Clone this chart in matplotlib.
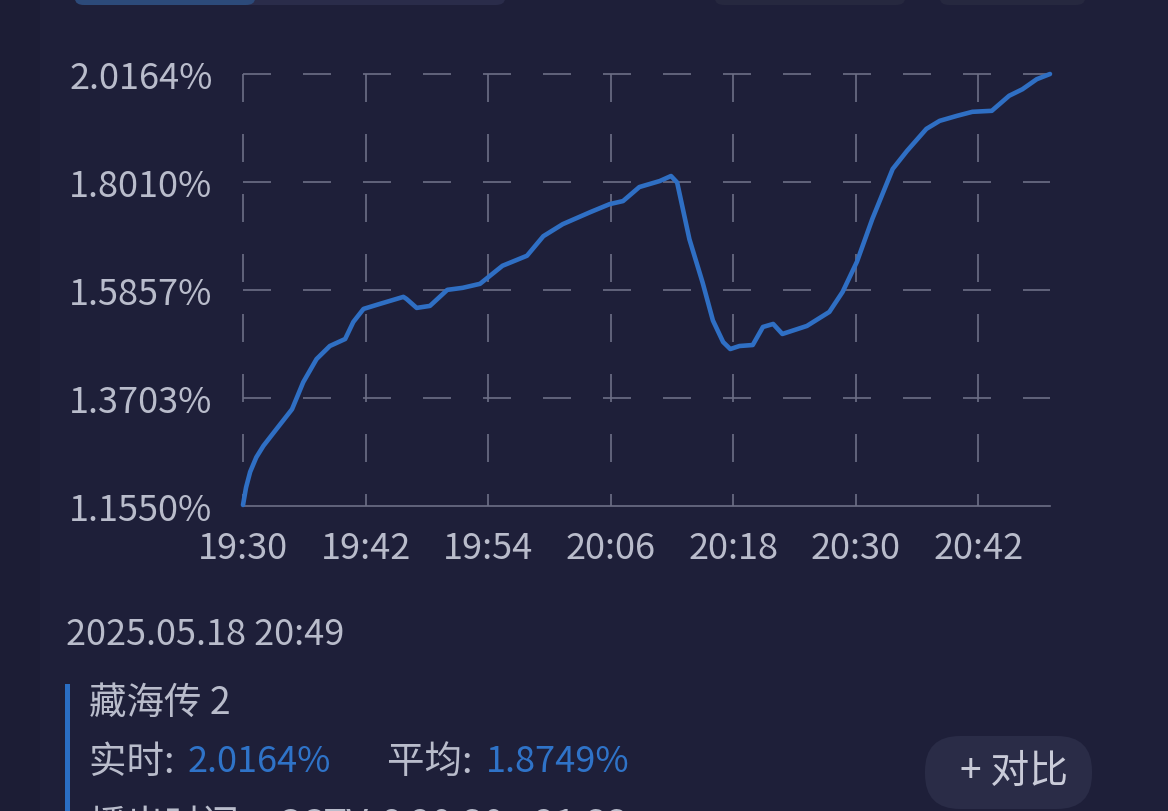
import matplotlib
matplotlib.use("Agg")
import matplotlib.pyplot as plt
from matplotlib.patches import FancyBboxPatch, Rectangle

plt.rcParams['font.family'] = ['Noto Sans CJK SC', 'DejaVu Sans']

# ---- data ----
minutes = [0, 0.3, 0.7, 1.3, 2.0, 3.3, 4.8, 5.9, 7.2, 8.5, 10.0, 10.8, 11.8, 13.4, 15.7, 16.0,
           17.0, 18.3, 20.0, 21.5, 23.2, 25.4, 27.8, 29.4, 31.3, 34.0, 35.9, 37.2,
           38.8, 40.8, 41.9, 42.5, 43.7, 45.0, 46.0, 47.0, 47.7, 48.6, 49.9, 50.9,
           51.9, 52.8, 55.2, 57.4, 58.7, 60.1, 61.6, 63.6, 65.0, 66.9, 68.2, 69.9,
           71.4, 73.3, 75.0, 76.3, 77.7, 79.0]
share = [1.157, 1.192, 1.223, 1.252, 1.275, 1.309, 1.348, 1.402, 1.448, 1.474, 1.488, 1.522,
         1.548, 1.558, 1.572, 1.568, 1.550, 1.554, 1.586, 1.590, 1.598, 1.634,
         1.654, 1.693, 1.717, 1.741, 1.757, 1.763, 1.791, 1.803, 1.813, 1.800,
         1.687, 1.600, 1.525, 1.482, 1.468, 1.474, 1.476, 1.512, 1.518, 1.498,
         1.514, 1.542, 1.582, 1.642, 1.727, 1.827, 1.863, 1.907, 1.923, 1.933,
         1.941, 1.943, 1.973, 1.986, 2.006, 2.0164]
y_ticks = [1.1550, 1.3703, 1.5857, 1.8010, 2.0164]
y_tick_labels = ['1.1550%', '1.3703%', '1.5857%', '1.8010%', '2.0164%']
x_ticks = [0, 12, 24, 36, 48, 60, 72]
x_tick_labels = ['19:30', '19:42', '19:54', '20:06', '20:18', '20:30', '20:42']
x_end = 79
date_text = '2025.05.18 20:49'
show_name = '藏海传 2'
realtime_label, realtime_value = '实时: ', '2.0164%'
avg_label, avg_value = '平均: ', '1.8749%'
airtime_text = '播出时间：CCTV-8 20:30 - 21:33'
compare_text = '+ 对比'

# ---- style ----
BG = '#1e1f39'
GRID = '#6d6f86'
LINE = '#2f6fc4'
TXT = '#b9bccb'
BLUE_TXT = '#2f73c8'

W, H = 1168, 812
fig = plt.figure(figsize=(W / 100, H / 100), dpi=100)
fig.patch.set_facecolor(BG)

# slightly darker left strip
fig.patches.append(Rectangle((0, 0), 40 / W, 1, transform=fig.transFigure,
                             facecolor='#1c1d35', edgecolor='none', zorder=0))

# cut-off buttons at top
for (x0, x1, col) in [(75, 505, '#2a2c4a'), (715, 905, '#26283f'), (940, 1085, '#26283f')]:
    fig.patches.append(FancyBboxPatch((x0 / W, 1 - 6 / H), (x1 - x0) / W, 20 / H,
                                      boxstyle='round,pad=0,rounding_size=0.008',
                                      transform=fig.transFigure, facecolor=col,
                                      edgecolor='none', zorder=1))
fig.patches.append(FancyBboxPatch((75 / W, 1 - 6 / H), 180 / W, 20 / H,
                                  boxstyle='round,pad=0,rounding_size=0.008',
                                  transform=fig.transFigure, facecolor='#2c4a7a',
                                  edgecolor='none', zorder=1))

ax = fig.add_axes([243 / W, 1 - 507 / H, (1050 - 243) / W, (507 - 75) / H])
ax.set_facecolor(BG)
ax.set_xlim(0, x_end)
ax.set_ylim(y_ticks[0], y_ticks[-1])

ax.plot(minutes, share, color=LINE, lw=3.3, solid_joinstyle='round',
        solid_capstyle='round', zorder=3, clip_on=False)

for s in ['top', 'right', 'left']:
    ax.spines[s].set_visible(False)
ax.spines['bottom'].set_color(GRID)
ax.spines['bottom'].set_linewidth(1.2)

ax.set_yticks(y_ticks)
ax.set_yticklabels(y_tick_labels)
ax.set_xticks(x_ticks)
ax.set_xticklabels(x_tick_labels)
ax.tick_params(axis='both', length=0, colors=TXT, labelsize=26)
ax.tick_params(axis='y', pad=22)
ax.tick_params(axis='x', pad=17)

dash_pat = (16.8, 19.2)
for yv in y_ticks[1:]:
    ax.plot([0, x_end], [yv, yv], color=GRID, lw=1.2, dashes=dash_pat, zorder=1,
            clip_on=False)
for xv in x_ticks:
    ax.plot([xv, xv], [y_ticks[-1], y_ticks[0]], color=GRID, lw=1.2, dashes=dash_pat,
            zorder=1, clip_on=False)

# ---- info panel ----
def fx(px):
    return px / W

def fy(py):
    return 1 - py / H

fig.text(fx(66), fy(635), date_text, color=TXT, fontsize=26, va='center', ha='left')
fig.patches.append(Rectangle((fx(65), 0), 5 / W, fy(685), transform=fig.transFigure,
                             facecolor='#2a6ec4', edgecolor='none'))
fig.text(fx(89), fy(703), show_name, color=TXT, fontsize=27, va='center', ha='left')
fig.text(fx(89), fy(762), realtime_label, color=TXT, fontsize=27, va='center', ha='left')
fig.text(fx(188), fy(762), realtime_value, color=BLUE_TXT, fontsize=26, va='center',
         ha='left')
fig.text(fx(387), fy(762), avg_label, color=TXT, fontsize=27, va='center', ha='left')
fig.text(fx(486), fy(762), avg_value, color=BLUE_TXT, fontsize=26, va='center',
         ha='left')
fig.text(fx(89), fy(826), airtime_text, color=TXT, fontsize=27, va='center', ha='left')

fig.patches.append(FancyBboxPatch((fx(925), fy(810)), 167 / W, 73 / H,
                                  boxstyle='round,pad=0,rounding_size=0.03',
                                  transform=fig.transFigure, facecolor='#2a2c47',
                                  edgecolor='none', mutation_aspect=W / H))
fig.text(fx(1014), fy(772), compare_text, color='#c9cbd8', fontsize=28, va='center',
         ha='center')

fig.savefig('out.png', dpi=100, facecolor=BG)
